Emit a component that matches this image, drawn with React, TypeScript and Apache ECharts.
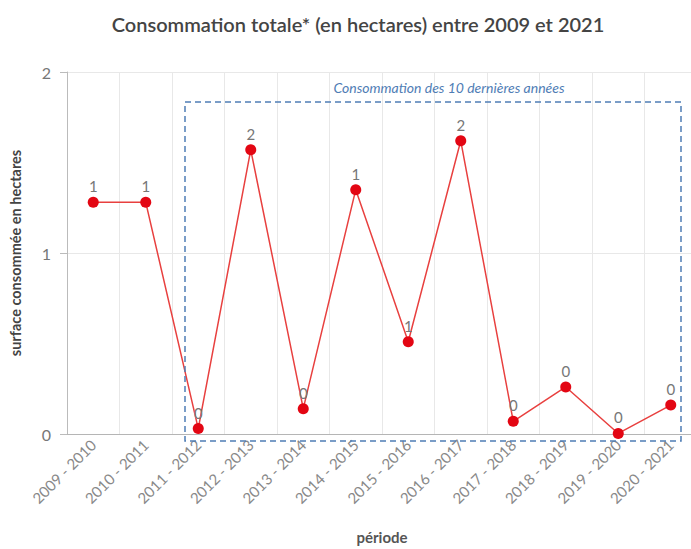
import React, { useEffect, useRef } from "react";
import * as echarts from "echarts";

const periods = [
  "2009 - 2010", "2010 - 2011", "2011 - 2012", "2012 - 2013", "2013 - 2014", "2014 - 2015",
  "2015 - 2016", "2016 - 2017", "2017 - 2018", "2018 - 2019", "2019 - 2020", "2020 - 2021",
];
const hectares = [1.28, 1.28, 0.03, 1.57, 0.14, 1.35, 0.51, 1.62, 0.07, 0.26, 0.003, 0.16];
const yTicks = [0, 1, 2];

const TITLE = "Consommation totale* (en hectares) entre 2009 et 2021";
const BOX_LABEL = "Consommation des 10 dernières années";

export default function App() {
  const ref = useRef<HTMLDivElement>(null);

  useEffect(() => {
    document.body.style.margin = "0";
    if (!ref.current) return;
    const chart = echarts.init(ref.current, null, { renderer: "svg" });
    const font = "Lato, 'Open Sans', sans-serif";
    chart.setOption({
      animation: false,
      backgroundColor: "#ffffff",
      title: {
        text: TITLE,
        left: 353,
        textAlign: "center",
        top: 9,
        textStyle: { fontFamily: font, fontSize: 20, fontWeight: 600, color: "#444" },
      },
      // the plot runs slightly past the visible right edge
      grid: { left: 61, right: 3, top: 72, bottom: 115, containLabel: false },
      xAxis: {
        type: "category",
        data: periods,
        boundaryGap: true,
        name: "période",
        nameLocation: "middle",
        nameGap: 95,
        nameTextStyle: { fontFamily: font, fontSize: 15, fontWeight: 700, color: "#555" },
        axisLine: { lineStyle: { color: "#b5b5b5" } },
        axisTick: { alignWithLabel: true, length: 5, lineStyle: { color: "#b5b5b5" } },
        axisLabel: { rotate: 45, fontFamily: font, fontSize: 15, color: "#888", margin: 8 },
        splitLine: { show: true, lineStyle: { color: "#e8e8e8" } },
      },
      yAxis: {
        type: "value",
        min: 0,
        max: 2,
        interval: 1,
        name: "surface consommée en hectares",
        nameLocation: "middle",
        nameGap: 44,
        nameTextStyle: { fontFamily: font, fontSize: 14.5, fontWeight: 700, color: "#444" },
        axisLine: { show: true, lineStyle: { color: "#bbb" } },
        axisTick: { show: true, length: 7, lineStyle: { color: "#bbb" } },
        axisLabel: {
          fontFamily: font,
          fontSize: 16,
          color: "#777",
          margin: 16,
          formatter: (v: number) => (yTicks.includes(v) ? String(v) : ""),
        },
        splitLine: { lineStyle: { color: "#e8e8e8" } },
      },
      series: [
        {
          type: "line",
          data: hectares,
          symbol: "circle",
          symbolSize: 11,
          itemStyle: { color: "#e30613" },
          lineStyle: { color: "#e8403f", width: 1.5 },
          label: {
            show: true,
            position: "top",
            distance: 3,
            fontFamily: font,
            fontSize: 15,
            color: "#777",
            formatter: (p: any) => String(Math.round(p.value)),
          },
          z: 3,
        },
      ],
      graphic: [
        {
          type: "rect",
          shape: { x: 185, y: 102, width: 496, height: 339 },
          style: { fill: "none", stroke: "#4f7db5", lineWidth: 1.5, lineDash: [6, 4] },
          z: 10,
        },
        {
          type: "text",
          x: 449,
          y: 87,
          style: {
            text: BOX_LABEL,
            fontFamily: font,
            fontSize: 14,
            fontStyle: "italic",
            fill: "#4f7db5",
            textAlign: "center",
            textVerticalAlign: "middle",
          },
          z: 10,
        },
      ],
    });
    return () => chart.dispose();
  }, []);

  return (
    <div style={{ width: 691, height: 549, overflow: "hidden" }}>
      <div ref={ref} style={{ width: 700, height: 549 }} />
    </div>
  );
}
